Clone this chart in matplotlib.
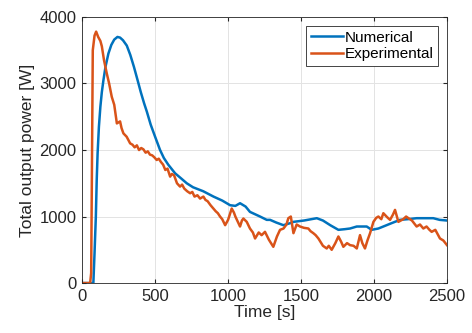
import matplotlib
matplotlib.use('Agg')
from matplotlib import pyplot as plt

plt.rcParams['font.family'] = ['Liberation Sans', 'DejaVu Sans']

# Numerical model
t_num = [0, 55, 77, 85, 94, 100, 106, 115, 125, 135, 146, 160, 180, 200, 220,
         242, 260, 280, 306, 330, 355, 380, 402, 425, 443, 470, 500, 534, 560,
         590, 637, 680, 717, 760, 830, 900, 960, 1014, 1050, 1082, 1120, 1150,
         1219, 1265, 1288, 1330, 1379, 1425, 1448, 1520, 1608, 1650, 1700,
         1756, 1800, 1836, 1882, 1950, 1984, 2030, 2064, 2120, 2178, 2230,
         2292, 2350, 2406, 2450, 2500]
p_num = [0, 0, 0, 450, 1000, 1550, 1950, 2350, 2650, 2870, 3050, 3250, 3450,
         3580, 3660, 3700, 3690, 3650, 3570, 3430, 3250, 3050, 2870, 2700, 2580,
         2380, 2200, 2000, 1880, 1780, 1650, 1570, 1500, 1440, 1380, 1300, 1240,
         1170, 1160, 1200, 1150, 1070, 1000, 950, 950, 910, 870, 900, 920, 940,
         975, 940, 870, 800, 810, 820, 850, 850, 800, 820, 850, 900, 950, 960,
         975, 975, 975, 950, 940]

t_exp = [0, 55, 62, 73, 85, 96, 110, 125, 135, 150, 169, 185, 203, 220, 238,
         260, 270, 283, 305, 329, 345, 360, 375, 390, 405, 420, 435, 450, 465,
         480, 495, 511, 525, 540, 555, 570, 585, 603, 615, 630, 650, 671, 685,
         700, 720, 740, 755, 770, 790, 808, 831, 845, 860, 880, 900, 915, 930,
         945, 960, 980, 1000, 1025, 1040, 1050, 1065, 1082, 1095, 1105, 1128,
         1150, 1170, 1185, 1210, 1230, 1253, 1280, 1310, 1335, 1356, 1380,
         1400, 1413, 1430, 1448, 1470, 1493, 1520, 1550, 1565, 1584, 1600,
         1619, 1650, 1676, 1690, 1710, 1735, 1756, 1775, 1790, 1815, 1836,
         1860, 1882, 1904, 1920, 1938, 1955, 1973, 1996, 2015, 2030, 2050,
         2064, 2090, 2110, 2130, 2144, 2167, 2200, 2220, 2236, 2260, 2292,
         2315, 2338, 2360, 2380, 2395, 2420, 2440, 2452, 2475, 2500]
p_exp = [0, 0, 150, 3500, 3720, 3780, 3700, 3640, 3560, 3350, 3150, 3000, 2800,
         2680, 2400, 2430, 2330, 2250, 2200, 2100, 2080, 2040, 2070, 2000, 2030,
         2010, 1960, 1980, 1930, 1920, 1890, 1850, 1870, 1820, 1780, 1700, 1720,
         1600, 1640, 1620, 1500, 1450, 1480, 1420, 1380, 1350, 1370, 1300, 1320,
         1270, 1300, 1250, 1230, 1170, 1120, 1080, 1050, 1000, 960, 870, 950,
         1120, 1060, 1000, 930, 850, 940, 970, 920, 820, 760, 670, 760, 720,
         770, 650, 545, 700, 800, 820, 880, 975, 1000, 750, 880, 850, 830, 820,
         780, 750, 720, 670, 560, 520, 560, 500, 600, 700, 620, 545, 600, 570,
         560, 520, 720, 600, 520, 640, 750, 920, 980, 1000, 960, 1050, 990, 950,
         1030, 1100, 920, 960, 1000, 975, 940, 850, 880, 820, 850, 800, 770,
         800, 720, 670, 640, 570]

numerical_color = '#0072BD'
experimental_color = '#D95319'

fig = plt.figure(figsize=(4.72, 3.33), dpi=100)
ax = fig.add_axes([0.174, 0.150, 0.773, 0.799])

ax.plot(t_num, p_num, color=numerical_color, linewidth=1.8, label='Numerical')
ax.plot(t_exp, p_exp, color=experimental_color, linewidth=1.8, label='Experimental')

ax.set_xlim(0, 2500)
ax.set_ylim(0, 4000)
ax.set_xticks([0, 500, 1000, 1500, 2000, 2500])
ax.set_yticks([0, 1000, 2000, 3000, 4000])
ax.set_xlabel('Time [s]', fontsize=12.5, color='#262626', labelpad=1)
ax.set_ylabel('Total output power [W]', fontsize=12.5, color='#262626', labelpad=3)
ax.tick_params(direction='in', labelsize=12, colors='#262626', length=3,
               top=True, right=True, pad=4)
for s in ax.spines.values():
    s.set_color('#262626')
    s.set_linewidth(0.6)
ax.grid(True, color='#e3e3e3', linewidth=0.7)
ax.set_axisbelow(True)

leg = ax.legend(loc='upper right', fontsize=11, handlelength=2.1,
                handletextpad=0.1, borderpad=0.3, labelspacing=0.15,
                fancybox=False, framealpha=1, borderaxespad=0.6)
leg.get_frame().set_edgecolor('#262626')
leg.get_frame().set_linewidth(0.6)

fig.savefig('out.png', dpi=100)
